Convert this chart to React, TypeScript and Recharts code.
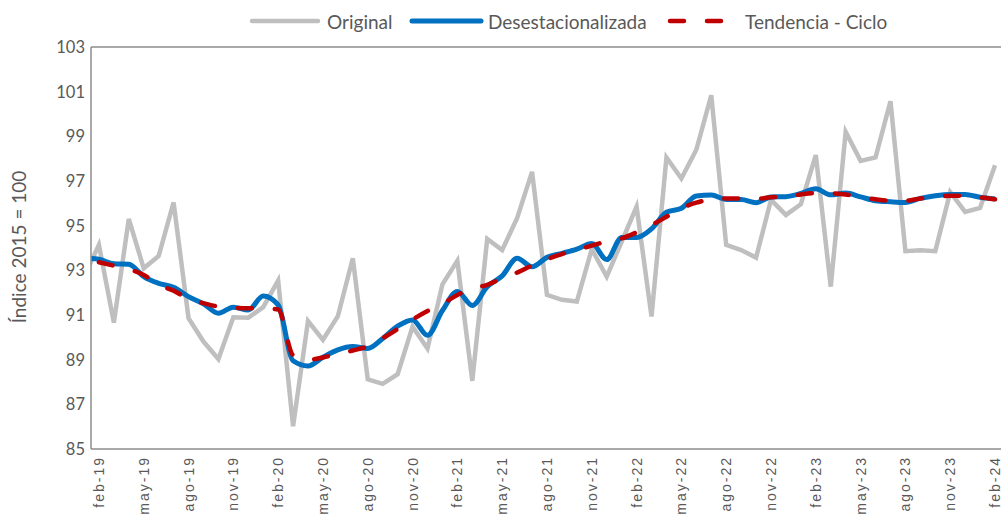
import { LineChart, Line, XAxis, YAxis, ReferenceLine } from "recharts";

// ene-19 .. feb-24 (ene-19 sits just left of the plot edge and is clipped)
const categories = [
  "ene-19", "feb-19", "mar-19", "abr-19", "may-19", "jun-19", "jul-19", "ago-19", "sep-19", "oct-19", "nov-19", "dic-19",
  "ene-20", "feb-20", "mar-20", "abr-20", "may-20", "jun-20", "jul-20", "ago-20", "sep-20", "oct-20", "nov-20", "dic-20",
  "ene-21", "feb-21", "mar-21", "abr-21", "may-21", "jun-21", "jul-21", "ago-21", "sep-21", "oct-21", "nov-21", "dic-21",
  "ene-22", "feb-22", "mar-22", "abr-22", "may-22", "jun-22", "jul-22", "ago-22", "sep-22", "oct-22", "nov-22", "dic-22",
  "ene-23", "feb-23", "mar-23", "abr-23", "may-23", "jun-23", "jul-23", "ago-23", "sep-23", "oct-23", "nov-23", "dic-23",
  "ene-24", "feb-24",
];

const original = [
  92.7, 94.14, 90.66, 95.3, 93.09, 93.64, 96.04, 90.86, 89.81, 89.03, 90.9, 90.88,
  91.35, 92.54, 86.02, 90.73, 89.89, 90.95, 93.54, 88.12, 87.92, 88.35, 90.48, 89.5,
  92.37, 93.43, 88.05, 94.41, 93.91, 95.33, 97.41, 91.9, 91.68, 91.6, 93.95, 92.72,
  94.28, 95.85, 90.93, 98.05, 97.11, 98.4, 100.84, 94.14, 93.91, 93.57, 96.15, 95.48,
  95.96, 98.16, 92.27, 99.2, 97.9, 98.06, 100.57, 93.86, 93.9, 93.86, 96.5, 95.62,
  95.8, 97.71,
];

const desestacionalizada = [
  93.55, 93.5, 93.29, 93.27, 92.72, 92.42, 92.24, 91.82, 91.5, 91.08, 91.35, 91.22,
  91.85, 91.45, 88.95, 88.72, 89.11, 89.44, 89.59, 89.5, 89.95, 90.5, 90.78, 90.09,
  91.2, 92.05, 91.43, 92.27, 92.75, 93.54, 93.16, 93.58, 93.76, 93.95, 94.2, 93.48,
  94.47, 94.47, 94.86, 95.6, 95.78, 96.33, 96.37, 96.17, 96.17, 96.03, 96.28, 96.3,
  96.44, 96.65, 96.38, 96.46, 96.29, 96.12, 96.07, 96.04, 96.22, 96.34, 96.4, 96.4,
  96.27, 96.19,
];

const tendenciaCiclo = [
  null, 93.36, 93.21, 93.05, 92.79, 92.35, 92.09, 91.72, 91.53, 91.38, 91.33, 91.3,
  91.3, 91.25, 89.2, 89.0, 89.1, 89.26, 89.41, 89.6, 89.96, 90.37, 90.8, 91.18,
  91.5, 91.9, 92.18, 92.35, 92.65, 92.9, 93.22, 93.5, 93.73, 93.91, 94.11, 94.29,
  94.43, 94.7, 95.03, 95.4, 95.78, 96.03, 96.18, 96.22, 96.22, 96.2, 96.27, 96.3,
  96.4, 96.46, 96.45, 96.4, 96.27, 96.18, 96.12, 96.12, 96.22, 96.28, 96.34, 96.34,
  96.27, 96.18,
];

const tickLabels = [
  "feb-19", "may-19", "ago-19", "nov-19", "feb-20", "may-20", "ago-20", "nov-20", "feb-21", "may-21", "ago-21",
  "nov-21", "feb-22", "may-22", "ago-22", "nov-22", "feb-23", "may-23", "ago-23", "nov-23", "feb-24",
];

const yTicks = [85, 87, 89, 91, 93, 95, 97, 99, 101, 103];

const COLORS = {
  original: "#bfbfbf",
  desest: "#0070c0",
  tendencia: "#c00000",
  text: "#595959",
  axis: "#8c8c8c",
};

const DASH = "14 23";

// x = month index, feb-19 = 0
const data = categories.map((name, k) => ({
  x: k - 1,
  name,
  original: original[k],
  desest: desestacionalizada[k],
  tend: tendenciaCiclo[k],
}));

const xTicks = tickLabels.map((l) => categories.indexOf(l) - 1);

function XTick({ x, y, payload }: any) {
  const label = categories[payload.value + 1];
  return (
    <g transform={`translate(${x},${y})`}>
      <text
        transform="rotate(-90)"
        x={-7}
        y={0}
        textAnchor="end"
        dominantBaseline="central"
        fill={COLORS.text}
        fontSize={14}
        letterSpacing={2}
        fontFamily="'Liberation Sans', Arial, sans-serif"
      >
        {label}
      </text>
    </g>
  );
}

function YTick({ x, y, payload }: any) {
  return (
    <text
      x={x - 6}
      y={y}
      textAnchor="end"
      dominantBaseline="central"
      fill={COLORS.text}
      fontSize={16.5}
      fontFamily="Lato, sans-serif"
    >
      {payload.value}
    </text>
  );
}

function Overlay() {
  const font = { fontFamily: "Lato, sans-serif", fontSize: 19, fill: COLORS.text };
  return (
    <svg width={1001} height={515} style={{ position: "absolute", left: 0, top: 0, pointerEvents: "none" }}>
      <line x1={252} x2={318} y1={21} y2={21} stroke={COLORS.original} strokeWidth={4.5} strokeLinecap="round" />
      <text x={327} y={21} dominantBaseline="central" {...font}>Original</text>
      <line x1={412} x2={481} y1={21} y2={21} stroke={COLORS.desest} strokeWidth={5} strokeLinecap="round" />
      <text x={488} y={21} dominantBaseline="central" {...font}>Desestacionalizada</text>
      <line x1={670} x2={722} y1={21} y2={21} stroke={COLORS.tendencia} strokeWidth={4.5} strokeLinecap="round" strokeDasharray={DASH} />
      <text x={745} y={21} dominantBaseline="central" {...font}>Tendencia - Ciclo</text>
      <text
        transform="translate(18,247) rotate(-90)"
        textAnchor="middle"
        dominantBaseline="central"
        {...font}
      >
        Índice 2015 = 100
      </text>
    </svg>
  );
}

export default function App() {
  return (
    <div style={{ position: "absolute", left: 0, top: 0, width: 1001, height: 515, background: "#fff" }}>
      <LineChart width={1001} height={515} data={data} margin={{ top: 47, right: 0, bottom: 0, left: 0 }}>
        <XAxis
          dataKey="x"
          type="number"
          domain={[-0.53, 60.4]}
          allowDataOverflow
          ticks={xTicks}
          interval={0}
          tick={<XTick />}
          tickLine={false}
          tickSize={0}
          tickMargin={0}
          height={66}
          axisLine={{ stroke: COLORS.axis, strokeWidth: 1.5 }}
        />
        <YAxis
          type="number"
          domain={[85, 103]}
          ticks={yTicks}
          interval={0}
          width={91}
          tick={<YTick />}
          tickLine={false}
          tickSize={0}
          tickMargin={0}
          axisLine={{ stroke: COLORS.axis, strokeWidth: 1.5 }}
        />
        <ReferenceLine y={103} stroke={COLORS.axis} strokeWidth={1.5} />
        <Line
          dataKey="original"
          type="linear"
          stroke={COLORS.original}
          strokeWidth={4.5}
          dot={false}
          activeDot={false}
          isAnimationActive={false}
        />
        <Line
          dataKey="desest"
          type="monotone"
          stroke={COLORS.desest}
          strokeWidth={5}
          dot={false}
          activeDot={false}
          isAnimationActive={false}
        />
        <Line
          dataKey="tend"
          type="monotone"
          stroke={COLORS.tendencia}
          strokeWidth={4.5}
          strokeDasharray={DASH}
          strokeLinecap="round"
          dot={false}
          activeDot={false}
          isAnimationActive={false}
        />
      </LineChart>
      <Overlay />
    </div>
  );
}
